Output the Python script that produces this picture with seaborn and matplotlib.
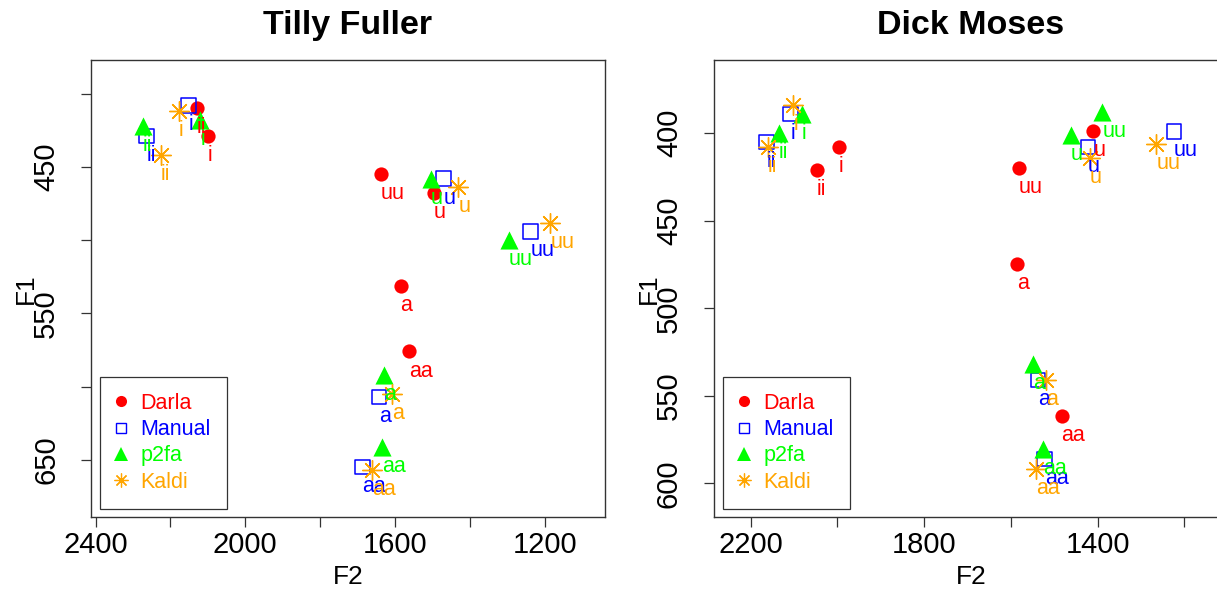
import warnings
warnings.filterwarnings("ignore")
import numpy as np
import pandas as pd
import matplotlib
matplotlib.use("Agg")
import matplotlib.pyplot as plt
import seaborn as sns
from matplotlib.lines import Line2D

# ---------------- data ----------------
vowels = ["i", "ii", "u", "uu", "a", "aa"]
methods = ["Darla", "Manual", "p2fa", "Kaldi"]
method_colors = ["#FF0000", "#0000FF", "#00FF00", "#FFA500"]

# Tilly Fuller
tf_darla_f2 = [2100, 2130, 1496, 1638, 1585, 1563]
tf_darla_f1 = [429, 410, 468, 455, 531, 576]
tf_manual_f2 = [2152, 2264, 1470, 1238, 1642, 1687]
tf_manual_f1 = [408, 429, 458, 494, 607, 655]
tf_p2fa_f2 = [2120, 2274, 1504, 1296, 1629, 1634]
tf_p2fa_f1 = [418, 422, 458, 500, 592, 641]
tf_kaldi_f2 = [2177, 2226, 1431, 1185, 1608, 1660]
tf_kaldi_f1 = [412, 442, 464, 488, 605, 657]

# Dick Moses
dm_darla_f2 = [1997, 2048, 1410, 1582, 1586, 1483]
dm_darla_f1 = [408, 421, 399, 420, 474.5, 561.5]
dm_manual_f2 = [2108, 2164, 1422, 1224, 1537, 1522]
dm_manual_f1 = [389, 405, 408, 399, 541, 586]
dm_p2fa_f2 = [2082, 2135, 1462, 1389, 1549, 1526]
dm_p2fa_f1 = [389, 400, 401, 388, 532, 580.5]
dm_kaldi_f2 = [2102, 2160, 1418, 1264, 1519, 1541]
dm_kaldi_f1 = [384, 408, 414, 406, 541, 592]

speakers = ["Tilly Fuller", "Dick Moses"]

tf_x_ticks = [2400, 2200, 2000, 1800, 1600, 1400, 1200]
tf_x_labels = ["2400", "", "2000", "", "1600", "", "1200"]
tf_y_ticks = [400, 450, 500, 550, 600, 650]
tf_y_labels = ["", "450", "", "550", "", "650"]
dm_x_ticks = [2200, 2000, 1800, 1600, 1400, 1200]
dm_x_labels = ["2200", "", "1800", "", "1400", ""]
dm_y_ticks = [400, 450, 500, 550, 600]
dm_y_labels = ["400", "450", "500", "550", "600"]


def build(f2s, f1s):
    rows = []
    for m, f2, f1 in zip(methods, f2s, f1s):
        for v, x, y in zip(vowels, f2, f1):
            rows.append({"method": m, "vowel": v, "F2": x, "F1": y})
    return pd.DataFrame(rows)


df_tf = build([tf_darla_f2, tf_manual_f2, tf_p2fa_f2, tf_kaldi_f2],
              [tf_darla_f1, tf_manual_f1, tf_p2fa_f1, tf_kaldi_f1])
df_dm = build([dm_darla_f2, dm_manual_f2, dm_p2fa_f2, dm_kaldi_f2],
              [dm_darla_f1, dm_manual_f1, dm_p2fa_f1, dm_kaldi_f1])

# ---------------- style ----------------
sns.set_style("white")
plt.rcParams["font.family"] = ["Liberation Sans", "DejaVu Sans"]
plt.rcParams["text.color"] = "black"
plt.rcParams["axes.labelcolor"] = "black"

W, H = 1217, 590
fig = plt.figure(figsize=(W / 100, H / 100), dpi=100)

ax_w = 514.5 / W
ax_h = 457 / H
bottom = 1 - 517 / H
ax1 = fig.add_axes([90.7 / W, bottom, ax_w, ax_h])
ax2 = fig.add_axes([713.5 / W, bottom, ax_w, ax_h])

marker_specs = {
    "Darla": dict(marker="o", s=105, color="#FF0000", edgecolor="#FF0000", linewidth=0),
    "Manual": dict(marker="s", s=110, color="#0000FF", facecolor="none",
                   edgecolor="#0000FF", linewidth=1.1),
    "p2fa": dict(marker="^", s=170, color="#00FF00", edgecolor="#00FF00", linewidth=0),
    "Kaldi": dict(marker=(8, 2, 0), s=200, color="#FFA500", linewidth=1.0),
}

panels = [
    (ax1, df_tf, speakers[0], (2413, 1038), (689, 377), tf_x_ticks, tf_x_labels, tf_y_ticks, tf_y_labels),
    (ax2, df_dm, speakers[1], (2286, 1099), (619.2, 358.2), dm_x_ticks, dm_x_labels, dm_y_ticks, dm_y_labels),
]

for ax, df, title, xlim, ylim, xt, xl, yt, yl in panels:
    for m, c in zip(methods, method_colors):
        sub = df[df["method"] == m]
        sns.scatterplot(data=sub, x="F2", y="F1", ax=ax, legend=False,
                        zorder=3, clip_on=False, **marker_specs[m])
        for _, r in sub.iterrows():
            ax.annotate(r["vowel"], (r["F2"], r["F1"]), xytext=(0, -6.5),
                        textcoords="offset points", ha="left", va="top",
                        color=c, fontsize=15.5, zorder=4)
    ax.set_xlim(*xlim)
    ax.set_ylim(*ylim)
    ax.set_xticks(xt)
    ax.set_xticklabels(xl)
    ax.set_yticks(yt)
    ax.set_yticklabels(yl, rotation=90, va="center")
    ax.tick_params(axis="both", which="major", direction="out", length=7.2,
                   width=0.9, color="#333333", labelsize=21, labelcolor="black",
                   bottom=True, left=True, top=False, right=False)
    ax.tick_params(axis="x", pad=2.6)
    ax.tick_params(axis="y", pad=14.8)
    ax.set_xlabel("F2", fontsize=19, labelpad=4.5, color="black")
    ax.set_ylabel("F1", fontsize=19, labelpad=-4.0, color="black")
    ax.set_title(title, fontsize=24.5, fontweight="bold", pad=18.5, color="black")
    for sp in ax.spines.values():
        sp.set_color("#333333")
        sp.set_linewidth(1.0)
        sp.set_visible(True)

    handles = [
        Line2D([], [], linestyle="none", marker="o", markersize=8,
               markerfacecolor="#FF0000", markeredgecolor="#FF0000", markeredgewidth=0),
        Line2D([], [], linestyle="none", marker="s", markersize=7.3,
               markerfacecolor="none", markeredgecolor="#0000FF", markeredgewidth=1.0),
        Line2D([], [], linestyle="none", marker="^", markersize=9.5,
               markerfacecolor="#00FF00", markeredgecolor="#00FF00", markeredgewidth=0),
        Line2D([], [], linestyle="none", marker=(8, 2, 0), markersize=10,
               color="#FFA500", markeredgewidth=0.9),
    ]
    pos = ax.get_position()
    leg_left = pos.x0 + 9.5 / W
    leg = ax.legend(handles, methods, loc="lower left",
                    bbox_to_anchor=(leg_left, 1 - 509 / H),
                    bbox_transform=fig.transFigure, fontsize=15.5,
                    frameon=True, fancybox=False, borderpad=0.75,
                    handlelength=0.45, handletextpad=0.68, labelspacing=0.25,
                    borderaxespad=0)
    leg.get_frame().set_edgecolor("black")
    leg.get_frame().set_linewidth(0.9)
    for t, c in zip(leg.get_texts(), method_colors):
        t.set_color(c)

fig.savefig("out.png", dpi=100)
